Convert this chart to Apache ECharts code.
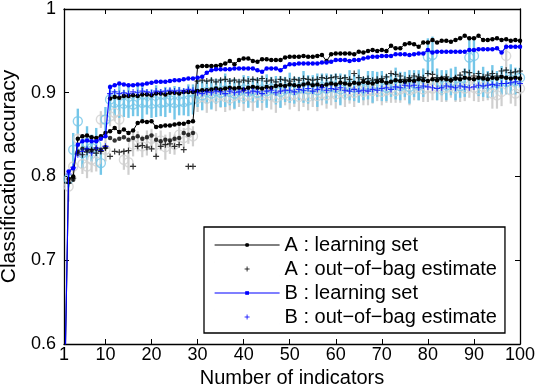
<!DOCTYPE html>
<html><head><meta charset="utf-8">
<script src="https://cdn.jsdelivr.net/npm/echarts@6/dist/echarts.min.js"></script>
<style>html,body{margin:0;padding:0;background:#fff}#c{width:538px;height:388px}</style>
</head><body><div id="c"></div>
<script>
// x categories: number of indicators 1..100
const indicators = Array.from({length: 100}, (_, k) => k + 1);
const xTicks = [1, 10, 20, 30, 40, 50, 60, 70, 80, 90, 100];

const aLearn = [
 0.500,0.797,0.800,0.845,0.848,0.849,0.847,0.846,0.848,0.852,
 0.854,0.858,0.853,0.856,0.852,0.855,0.864,0.866,0.865,0.866,
 0.859,0.860,0.861,0.861,0.862,0.863,0.863,0.865,0.866,0.931,
 0.932,0.932,0.932,0.932,0.933,0.935,0.938,0.934,0.939,0.941,
 0.941,0.938,0.937,0.940,0.940,0.939,0.939,0.939,0.942,0.943,
 0.943,0.943,0.944,0.943,0.943,0.944,0.945,0.938,0.946,0.947,
 0.947,0.947,0.947,0.946,0.949,0.948,0.950,0.951,0.950,0.951,
 0.950,0.956,0.953,0.953,0.958,0.959,0.958,0.955,0.960,0.960,
 0.963,0.960,0.962,0.962,0.961,0.963,0.965,0.968,0.965,0.965,
 0.968,0.963,0.963,0.964,0.965,0.963,0.964,0.962,0.963,0.962];

const bLearn = [
 0.500,0.806,0.810,0.838,0.842,0.843,0.842,0.842,0.845,0.848,
 0.907,0.909,0.911,0.910,0.909,0.909,0.910,0.910,0.911,0.912,
 0.913,0.913,0.913,0.914,0.915,0.915,0.916,0.917,0.917,0.918,
 0.919,0.924,0.927,0.928,0.928,0.928,0.928,0.929,0.929,0.929,
 0.929,0.929,0.927,0.925,0.929,0.929,0.929,0.927,0.931,0.934,
 0.934,0.935,0.935,0.935,0.935,0.935,0.936,0.936,0.937,0.939,
 0.939,0.939,0.938,0.939,0.939,0.941,0.942,0.943,0.943,0.944,
 0.944,0.944,0.946,0.946,0.946,0.945,0.946,0.947,0.947,0.951,
 0.948,0.949,0.949,0.949,0.949,0.949,0.949,0.949,0.951,0.951,
 0.952,0.952,0.952,0.952,0.953,0.948,0.955,0.955,0.955,0.955];

// second (unlabelled) black learning curve
const aLearn2 = [
 null,null,null,null,null,null,null,null,null,null,
 0.893,0.895,0.894,0.896,0.896,0.897,0.896,0.898,0.898,0.897,
 0.899,0.899,0.898,0.900,0.900,0.899,0.901,0.901,0.901,0.902,
 0.903,0.903,0.904,0.905,0.904,0.905,0.906,0.905,0.906,0.904,
 0.906,0.907,0.906,0.905,0.907,0.906,0.908,0.909,0.908,0.910,
 0.909,0.908,0.910,0.911,0.909,0.910,0.908,0.910,0.911,0.910,
 0.912,0.911,0.910,0.912,0.911,0.913,0.912,0.911,0.913,0.914,
 0.912,0.913,0.915,0.914,0.913,0.915,0.914,0.916,0.915,0.914,
 0.916,0.915,0.917,0.916,0.915,0.917,0.916,0.918,0.917,0.916,
 0.918,0.917,0.916,0.918,0.917,0.919,0.918,0.917,0.918,0.917];

// unlabelled black dots
const aDots = [
 null,0.793,0.796,0.830,0.833,0.832,0.831,0.833,0.832,0.835,
 0.846,0.843,0.845,0.847,0.844,0.846,0.848,0.845,0.847,0.849,
 0.844,0.842,0.844,0.843,0.845,0.846,0.852,0.850,0.852];

const aOob = [
 null,0.792,0.798,0.828,0.826,0.829,0.832,0.828,0.830,0.834,
 0.824,0.830,0.829,0.830,0.831,0.812,0.836,0.837,0.835,0.833,
 0.824,0.836,0.838,0.839,0.836,0.838,0.832,0.812,0.812,0.914,
 0.915,0.914,0.915,0.913,0.915,0.916,0.914,0.915,0.913,0.915,
 0.914,0.916,0.915,0.917,0.914,0.915,0.913,0.916,0.915,0.914,
 0.916,0.915,0.917,0.916,0.915,0.916,0.918,0.917,0.918,0.919,
 0.917,0.918,0.916,0.923,0.918,0.916,0.917,0.915,0.916,0.917,
 0.919,0.923,0.922,0.920,0.916,0.918,0.920,0.919,0.918,0.923,
 0.922,0.918,0.917,0.919,0.915,0.918,0.921,0.925,0.924,0.920,
 0.923,0.919,0.921,0.923,0.920,0.926,0.927,0.924,0.925,0.926];

const bOob = [
 null,0.803,0.811,0.826,0.830,0.833,0.828,0.834,0.831,0.836,
 0.899,0.901,0.899,0.900,0.899,0.901,0.900,0.902,0.901,0.900,
 0.902,0.901,0.902,0.903,0.902,0.903,0.902,0.904,0.903,0.900,
 0.899,0.901,0.900,0.902,0.901,0.899,0.902,0.900,0.901,0.903,
 0.900,0.902,0.901,0.899,0.902,0.903,0.900,0.902,0.903,0.903,
 0.901,0.904,0.903,0.905,0.902,0.904,0.906,0.903,0.905,0.904,
 0.906,0.903,0.902,0.904,0.902,0.903,0.902,0.904,0.903,0.905,
 0.906,0.904,0.907,0.906,0.909,0.908,0.909,0.906,0.908,0.907,
 0.906,0.905,0.906,0.908,0.907,0.906,0.908,0.907,0.906,0.907,
 0.909,0.908,0.909,0.910,0.909,0.911,0.911,0.912,0.913,0.911];

// light blue circles (mean) and half-length of their bars
const bTestMean = [
 null,0.797,0.832,0.866,0.828,0.840,0.834,0.838,0.816,0.868,
 0.892,0.888,0.890,0.887,0.889,0.886,0.890,0.888,0.889,0.887,
 0.890,0.888,0.889,0.891,0.888,0.890,0.889,0.891,0.892,0.899,
 0.897,0.901,0.899,0.902,0.900,0.903,0.901,0.899,0.902,0.904,
 0.901,0.903,0.900,0.904,0.902,0.905,0.903,0.901,0.904,0.906,
 0.903,0.905,0.907,0.904,0.906,0.903,0.907,0.905,0.908,0.906,
 0.904,0.907,0.909,0.906,0.908,0.905,0.909,0.907,0.910,0.908,
 0.906,0.909,0.911,0.908,0.910,0.907,0.911,0.909,0.912,0.943,
 0.945,0.910,0.912,0.909,0.913,0.911,0.908,0.912,0.942,0.944,
 0.911,0.913,0.910,0.914,0.912,0.915,0.913,0.916,0.914,0.918];
const bTestErr = [
 null,0.010,0.020,0.015,0.018,0.020,0.016,0.020,0.014,0.015,
 0.018,0.015,0.020,0.016,0.019,0.014,0.018,0.020,0.015,0.017,
 0.019,0.016,0.018,0.015,0.020,0.017,0.016,0.019,0.018,0.016,
 0.018,0.014,0.019,0.015,0.017,0.020,0.016,0.018,0.014,0.017,
 0.019,0.015,0.018,0.016,0.020,0.014,0.017,0.019,0.015,0.018,
 0.016,0.014,0.019,0.017,0.015,0.020,0.016,0.018,0.014,0.017,
 0.019,0.015,0.018,0.016,0.020,0.014,0.017,0.019,0.015,0.018,
 0.016,0.014,0.019,0.017,0.015,0.020,0.016,0.018,0.017,0.022,
 0.022,0.019,0.015,0.018,0.016,0.020,0.014,0.017,0.022,0.022,
 0.015,0.018,0.016,0.019,0.014,0.017,0.015,0.018,0.016,0.012];

// gray circles (mean) and half-length of their bars
const aTestMean = [
 null,0.788,0.812,0.845,0.815,0.812,0.820,0.818,0.868,0.832,
 0.872,0.876,0.868,0.820,0.817,0.838,0.842,0.836,0.840,0.845,
 0.838,0.843,0.835,0.840,0.838,0.850,0.846,0.852,0.848,0.893,
 0.895,0.893,0.896,0.894,0.897,0.895,0.893,0.896,0.898,0.895,
 0.897,0.894,0.898,0.896,0.899,0.896,0.894,0.897,0.899,0.896,
 0.898,0.895,0.897,0.895,0.898,0.896,0.899,0.897,0.900,0.898,
 0.901,0.899,0.902,0.900,0.903,0.901,0.903,0.902,0.904,0.901,
 0.903,0.905,0.902,0.904,0.906,0.903,0.905,0.907,0.904,0.906,
 0.905,0.907,0.904,0.906,0.908,0.905,0.907,0.905,0.908,0.906,
 0.904,0.907,0.905,0.899,0.897,0.901,0.944,0.903,0.899,0.905];
const aTestErr = [
 null,0.018,0.012,0.015,0.012,0.014,0.015,0.012,0.010,0.014,
 0.012,0.010,0.014,0.012,0.015,0.014,0.012,0.013,0.015,0.012,
 0.014,0.012,0.015,0.013,0.012,0.014,0.012,0.013,0.012,0.016,
 0.015,0.017,0.014,0.016,0.015,0.018,0.014,0.016,0.015,0.017,
 0.014,0.016,0.015,0.017,0.014,0.016,0.018,0.015,0.014,0.016,
 0.015,0.017,0.014,0.016,0.015,0.018,0.014,0.016,0.015,0.017,
 0.014,0.016,0.015,0.017,0.014,0.016,0.018,0.015,0.014,0.016,
 0.015,0.017,0.014,0.016,0.015,0.018,0.014,0.016,0.015,0.017,
 0.014,0.016,0.015,0.017,0.014,0.016,0.018,0.015,0.014,0.016,
 0.015,0.017,0.014,0.018,0.016,0.017,0.015,0.016,0.015,0.014];

const legendNames = ['A : learning set', 'A : out\u2212of\u2212bag estimate', 'B : learning set', 'B : out\u2212of\u2212bag estimate'];

// ---------- build ----------
const pair = arr => indicators.map((x, i) => [x, arr[i] === undefined ? null : arr[i]]).filter(p => p[1] !== null);
const bars = (m, e) => indicators.map((x, i) => m[i] == null ? null : [x, m[i] - e[i], m[i] + e[i]]).filter(Boolean);

const FONT = 'Liberation Sans';
const BLUE = '#0000ff';
const SKY = '#74c6e8';
const GRAY = '#cfcfcf';
const PLUS = 'path://M0,5L10,5M5,0L5,10';
const LINE_ICON = 'path://M0,7L65,7M31.2,5.8L33.8,5.8L33.8,8.2L31.2,8.2Z';
const PLUS_ICON = 'path://M0,0L0.01,0M65,14L65.01,14M30,7L35,7M32.5,4.5L32.5,9.5';

function barRenderer(color, w) {
  return function (params, api) {
    const p1 = api.coord([api.value(0), api.value(1)]);
    const p2 = api.coord([api.value(0), api.value(2)]);
    return {type: 'line', shape: {x1: p1[0], y1: p1[1], x2: p2[0], y2: p2[1]},
            style: {stroke: color, lineWidth: w}};
  };
}

const chart = echarts.init(document.getElementById('c'), null, {renderer: 'canvas'});
const axisLineStyle = {color: '#000', width: 1.3};
chart.setOption({
  animation: false,
  backgroundColor: '#fff',
  textStyle: {fontFamily: FONT},
  grid: {left: 64, right: 18, top: 9, bottom: 44, containLabel: false, outerBoundsMode: 'none'},
  xAxis: [{
    type: 'value', min: 1, max: 100, position: 'bottom',
    name: 'Number of indicators', nameLocation: 'middle', nameGap: 12,
    nameTextStyle: {fontSize: 20, color: '#000', fontFamily: FONT},
    axisLine: {show: true, lineStyle: axisLineStyle},
    axisTick: {show: true, inside: true, length: 5, customValues: xTicks, lineStyle: {color: '#000'}},
    axisLabel: {show: true, customValues: xTicks, fontSize: 18, color: '#000', margin: 2, fontFamily: FONT},
    splitLine: {show: false}
  }, {
    type: 'value', min: 1, max: 100, position: 'top',
    axisLine: {show: true, lineStyle: axisLineStyle},
    axisTick: {show: true, inside: true, length: 5, customValues: xTicks, lineStyle: {color: '#000'}},
    axisLabel: {show: false},
    splitLine: {show: false}
  }],
  yAxis: [{
    type: 'value', min: 0.6, max: 1, interval: 0.1, position: 'left',
    name: 'Classification accuracy', nameLocation: 'middle', nameGap: 43,
    nameTextStyle: {fontSize: 21, color: '#000', fontFamily: FONT},
    axisLine: {show: true, lineStyle: axisLineStyle},
    axisTick: {show: true, inside: true, length: 5, lineStyle: {color: '#000'}},
    axisLabel: {fontSize: 18, color: '#000', margin: 8, fontFamily: FONT,
      formatter: v => String(+v.toFixed(1))},
    splitLine: {show: false}
  }, {
    type: 'value', min: 0.6, max: 1, interval: 0.1, position: 'right',
    axisLine: {show: true, lineStyle: axisLineStyle},
    axisTick: {show: true, inside: true, length: 5, lineStyle: {color: '#000'}},
    axisLabel: {show: false},
    splitLine: {show: false}
  }],
  legend: {
    orient: 'vertical', left: 204, top: 227,
    padding: [8, 8, 6, 10],
    itemWidth: 65, itemHeight: 14, itemGap: 4,
    borderColor: '#000', borderWidth: 1.3, backgroundColor: '#fff',
    textStyle: {fontSize: 20, color: '#000', fontFamily: FONT},
    selectedMode: false,
    data: [
      {name: legendNames[0], icon: LINE_ICON, itemStyle: {color: '#000', borderColor: '#000', borderWidth: 1}},
      {name: legendNames[1], icon: PLUS_ICON, itemStyle: {color: '#000', borderColor: '#000', borderWidth: 1}},
      {name: legendNames[2], icon: LINE_ICON, itemStyle: {color: BLUE, borderColor: BLUE, borderWidth: 1.2}},
      {name: legendNames[3], icon: PLUS_ICON, itemStyle: {color: BLUE, borderColor: BLUE, borderWidth: 1}}
    ]
  },
  series: [
    {type: 'custom', name: 'A test bars', z: 1, clip: true, silent: true,
     data: bars(aTestMean, aTestErr), encode: {x: 0, y: [1, 2]}, renderItem: barRenderer(GRAY, 2.2)},
    {type: 'custom', name: 'B test bars', z: 2, clip: true, silent: true,
     data: bars(bTestMean, bTestErr), encode: {x: 0, y: [1, 2]}, renderItem: barRenderer(SKY, 2.4)},
    {type: 'scatter', name: 'A test', z: 3, symbol: 'circle', symbolSize: 9, clip: true, silent: true,
     itemStyle: {color: 'rgba(0,0,0,0)', borderColor: GRAY, borderWidth: 1.4}, data: pair(aTestMean)},
    {type: 'scatter', name: 'B test', z: 4, symbol: 'circle', symbolSize: 9, clip: true, silent: true,
     itemStyle: {color: 'rgba(0,0,0,0)', borderColor: SKY, borderWidth: 1.4}, data: pair(bTestMean)},
    {type: 'scatter', name: 'A dots', z: 5, symbol: 'circle', symbolSize: 4.5, clip: true, silent: true,
     itemStyle: {color: '#000'}, data: pair(aDots)},
    {type: 'line', name: 'A learning 2', z: 5, symbol: 'circle', symbolSize: 4.5, showAllSymbol: true, clip: true, silent: true,
     lineStyle: {color: '#000', width: 1}, itemStyle: {color: '#000'}, data: pair(aLearn2)},
    {type: 'scatter', name: legendNames[3], z: 6, symbol: PLUS, symbolSize: 6, clip: true, silent: true,
     itemStyle: {color: BLUE, borderColor: BLUE, borderWidth: 1.1}, data: pair(bOob)},
    {type: 'scatter', name: legendNames[1], z: 6, symbol: PLUS, symbolSize: 6, clip: true, silent: true,
     itemStyle: {color: '#000', borderColor: '#000', borderWidth: 1.2}, data: pair(aOob)},
    {type: 'line', name: legendNames[0], z: 7, symbol: 'circle', symbolSize: 4.5, showAllSymbol: true, clip: true, silent: true,
     lineStyle: {color: '#000', width: 1}, itemStyle: {color: '#000'}, data: pair(aLearn)},
    {type: 'line', name: legendNames[2], z: 8, symbol: 'circle', symbolSize: 4.5, showAllSymbol: true, clip: true, silent: true,
     lineStyle: {color: BLUE, width: 1.2}, itemStyle: {color: BLUE}, data: pair(bLearn)}
  ]
});
</script></body></html>
